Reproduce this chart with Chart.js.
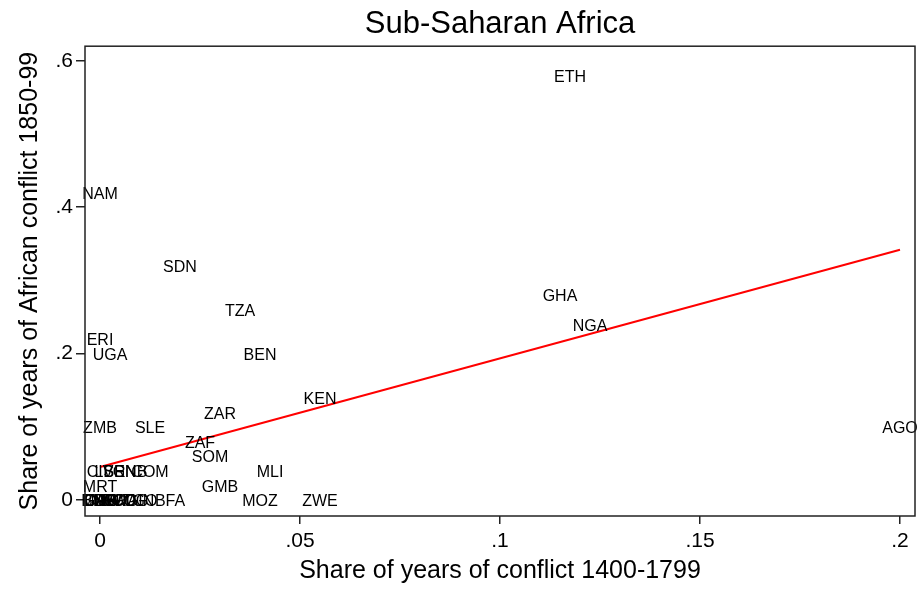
<!DOCTYPE html>
<html>
<head>
<meta charset="utf-8">
<script src="https://cdn.jsdelivr.net/npm/chart.js@4"></script>
<style>
  body { margin: 0; background: #fff; }
  #wrap { width: 923px; height: 592px; }
</style>
</head>
<body>
<div id="wrap"><canvas id="conflictChart"></canvas></div>
<script>
// country codes with their share of conflict years
var countries = ['ETH', 'NAM', 'SDN', 'TZA', 'GHA', 'NGA', 'ERI', 'UGA', 'BEN', 'KEN',
    'ZAR', 'ZMB', 'SLE', 'AGO', 'ZAF', 'SOM', 'MLI', 'GMB', 'MOZ', 'ZWE', 'MRT',
    'CIV', 'LBR', 'SEN', 'GNB', 'COM',
    'BWA', 'CAF', 'GAB', 'LSO', 'MDG', 'MWI', 'NER', 'RWA', 'TCD', 'COG', 'TGO', 'GIN', 'BFA'];
var share1400 = [0.1175, 0, 0.02, 0.035, 0.115, 0.1225, 0, 0.0025, 0.04, 0.055,
    0.03, 0, 0.0125, 0.2, 0.025, 0.0275, 0.0425, 0.03, 0.04, 0.055, 0,
    0, 0.0025, 0.005, 0.0075, 0.0125,
    0, 0, 0, 0, 0, 0.0025, 0.0025, 0.005, 0.005, 0.0075, 0.01, 0.01, 0.0175];
var share1850 = [0.58, 0.42, 0.32, 0.26, 0.28, 0.24, 0.22, 0.2, 0.2, 0.14,
    0.12, 0.1, 0.1, 0.1, 0.08, 0.06, 0.04, 0.02, 0, 0, 0.02,
    0.04, 0.04, 0.04, 0.04, 0.04,
    0, 0, 0, 0, 0, 0, 0, 0, 0, 0, 0, 0, 0];

// fitted line end points
var fitX = [0, 0.2];
var fitY = [0.045, 0.342];

var xTicks = [0, 0.05, 0.1, 0.15, 0.2];
var xTickLabels = ['0', '.05', '.1', '.15', '.2'];
var yTicks = [0, 0.2, 0.4, 0.6];
var yTickLabels = ['0', '.2', '.4', '.6'];

var FONT = 'Liberation Sans, Arial, sans-serif';

var pts = countries.map(function (c, i) { return { x: share1400[i], y: share1850[i] }; });
var fitPts = fitX.map(function (x, i) { return { x: x, y: fitY[i] }; });

// draw country codes centred on their points, and the box round the plot
var labelPlugin = {
    id: 'labels',
    afterDatasetsDraw: function (chart) {
        var ctx = chart.ctx;
        var meta = chart.getDatasetMeta(0);
        ctx.save();
        ctx.font = '16px ' + FONT;
        ctx.fillStyle = '#000';
        ctx.textAlign = 'center';
        ctx.textBaseline = 'middle';
        meta.data.forEach(function (el, i) {
            ctx.fillText(countries[i], el.x, el.y + 2);
        });
        var a = chart.chartArea;
        ctx.strokeStyle = '#222';
        ctx.lineWidth = 1.5;
        ctx.strokeRect(a.left, a.top, a.right - a.left, a.bottom - a.top);
        ctx.restore();
    }
};

var ctx = document.getElementById('conflictChart').getContext('2d');
var conflictChart = new Chart(ctx, {
    type: 'scatter',
    data: {
        datasets: [{
            data: pts,
            pointRadius: 0,
            pointHoverRadius: 0
        }, {
            type: 'line',
            data: fitPts,
            borderColor: '#ff0000',
            borderWidth: 2,
            pointRadius: 0,
            fill: false
        }]
    },
    options: {
        responsive: true,
        maintainAspectRatio: false,
        animation: false,
        layout: { padding: { left: 0, right: 8, top: 0, bottom: 0 } },
        plugins: {
            legend: { display: false },
            tooltip: { enabled: false },
            title: {
                display: true,
                fullSize: false,
                text: 'Sub-Saharan Africa',
                color: '#000',
                font: { family: FONT, size: 31, weight: 'normal', lineHeight: 1.2 },
                padding: { top: 6, bottom: 3 }
            }
        },
        scales: {
            x: {
                type: 'linear',
                min: -0.00375,
                max: 0.20375,
                afterBuildTicks: function (s) { s.ticks = xTicks.map(function (v) { return { value: v }; }); },
                afterFit: function (s) { s.height = 76; },
                ticks: {
                    color: '#000',
                    font: { family: FONT, size: 21 },
                    padding: 5,
                    maxRotation: 0,
                    callback: function (v) { return xTickLabels[xTicks.indexOf(v)]; }
                },
                grid: { drawOnChartArea: false, drawTicks: true, tickLength: 8, color: '#222', lineWidth: 1.5 },
                border: { display: false },
                title: {
                    display: true,
                    text: 'Share of years of conflict 1400-1799',
                    color: '#000',
                    font: { family: FONT, size: 25 },
                    padding: { top: 0, bottom: 6 }
                }
            },
            y: {
                type: 'linear',
                min: -0.0219,
                max: 0.62,
                afterBuildTicks: function (s) { s.ticks = yTicks.map(function (v) { return { value: v }; }); },
                afterFit: function (s) { s.width = 85; },
                ticks: {
                    color: '#000',
                    font: { family: FONT, size: 21 },
                    padding: 3,
                    callback: function (v) { return yTickLabels[yTicks.indexOf(v)]; }
                },
                grid: { drawOnChartArea: false, drawTicks: true, tickLength: 9, color: '#222', lineWidth: 1.5 },
                border: { display: false },
                title: {
                    display: true,
                    text: 'Share of years of African conflict 1850-99',
                    color: '#000',
                    font: { family: FONT, size: 25 },
                    padding: { top: 15, bottom: 0 }
                }
            }
        }
    },
    plugins: [labelPlugin]
});
</script>
</body>
</html>
